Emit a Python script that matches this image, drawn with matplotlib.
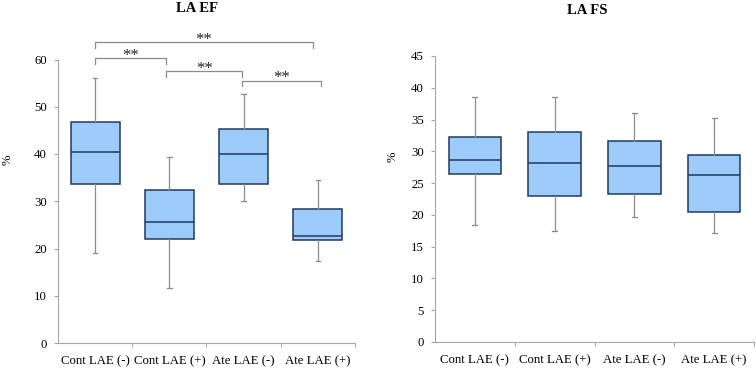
import matplotlib
matplotlib.use("Agg")
import matplotlib.pyplot as plt

plt.rcParams['font.family'] = ['Liberation Serif', 'DejaVu Serif']

categories = ["Cont LAE (-)", "Cont LAE (+)", "Ate LAE (-)", "Ate LAE (+)"]

# LA EF box stats: whisker low, Q1, median, Q3, whisker high
ef_low = [19.0, 11.7, 30.0, 17.4]
ef_q1 = [33.6, 22.0, 33.6, 21.9]
ef_med = [40.4, 25.7, 40.0, 22.7]
ef_q3 = [46.7, 32.3, 45.2, 28.3]
ef_high = [56.0, 39.3, 52.8, 34.6]

# LA FS box stats
fs_low = [18.4, 17.5, 19.6, 17.1]
fs_q1 = [26.4, 22.9, 23.3, 20.4]
fs_med = [28.6, 28.1, 27.7, 26.2]
fs_q3 = [32.3, 33.0, 31.6, 29.4]
fs_high = [38.5, 38.5, 36.1, 35.2]

# significance brackets on LA EF: (x start, x end, height, label)
brackets = [
    (1.0, 3.93, 63.7, "**"),
    (1.0, 1.96, 60.3, "**"),
    (1.96, 2.98, 57.5, "**"),
    (2.98, 4.04, 55.5, "**"),
]

FILL = "#9DCBFA"
EDGE = "#1F3A5F"
GREY = "#8C8C8C"
AX = "#A6A6A6"

fig = plt.figure(figsize=(7.56, 3.69), dpi=100)
ax1 = fig.add_axes([58/756, 26/369, 297/756, 283.5/369])
ax2 = fig.add_axes([435/756, 27/369, 319/756, 286/369])


def draw(ax, low, q1, med, q3, high, ymax, ystep):
    stats = []
    for i in range(len(categories)):
        stats.append(dict(whislo=low[i], q1=q1[i], med=med[i], q3=q3[i],
                          whishi=high[i], fliers=[], label=categories[i]))
    ax.bxp(stats, positions=range(1, len(categories) + 1), widths=0.66,
           patch_artist=True, showfliers=False,
           boxprops=dict(facecolor=FILL, edgecolor=EDGE, linewidth=1.1),
           medianprops=dict(color=EDGE, linewidth=1.1),
           whiskerprops=dict(color=GREY, linewidth=0.9),
           capprops=dict(color=GREY, linewidth=0.9),
           capwidths=0.06)
    ax.set_xlim(0.5, len(categories) + 0.5)
    ax.set_ylim(0, ymax)
    ax.set_yticks([v * ystep for v in range(int(ymax / ystep) + 1)])
    ax.set_xticks(range(1, len(categories) + 1))
    ax.set_xticklabels(categories, fontsize=9.2)
    ax.set_xticks([i + 0.5 for i in range(1, len(categories) + 1)], minor=True)
    ax.tick_params(axis='x', which='major', length=0, pad=9)
    ax.tick_params(axis='x', which='minor', length=3, color=AX, width=0.8)
    ax.tick_params(axis='y', length=3, color=AX, width=0.8, pad=5, labelsize=9.2)
    for s in ['top', 'right']:
        ax.spines[s].set_visible(False)
    for s in ['left', 'bottom']:
        ax.spines[s].set_color(AX)
        ax.spines[s].set_linewidth(0.8)


draw(ax1, ef_low, ef_q1, ef_med, ef_q3, ef_high, 60, 10)
draw(ax2, fs_low, fs_q1, fs_med, fs_q3, fs_high, 45, 5)

leg = 1.2
for x0, x1, h, lab in brackets:
    ax1.plot([x0, x0, x1, x1], [h - leg, h, h, h - leg], color=GREY,
             linewidth=0.9, clip_on=False)
    ax1.annotate(lab, xy=((x0 + x1) / 2, h), xytext=(0, -4),
                 textcoords='offset points', ha='center', va='bottom',
                 fontsize=12, color="#222222", annotation_clip=False)

fig.text(197/756, 1 - 8/369, "LA EF", ha='center', va='center',
         fontsize=10.5, fontweight='bold')
fig.text(587/756, 1 - 11/369, "LA FS", ha='center', va='center',
         fontsize=10.5, fontweight='bold')
fig.text(8/756, 1 - 160/369, "%", rotation=90, ha='center', va='center', fontsize=9)
fig.text(393/756, 1 - 157/369, "%", rotation=90, ha='center', va='center', fontsize=9)

fig.savefig("out.png", dpi=100)
